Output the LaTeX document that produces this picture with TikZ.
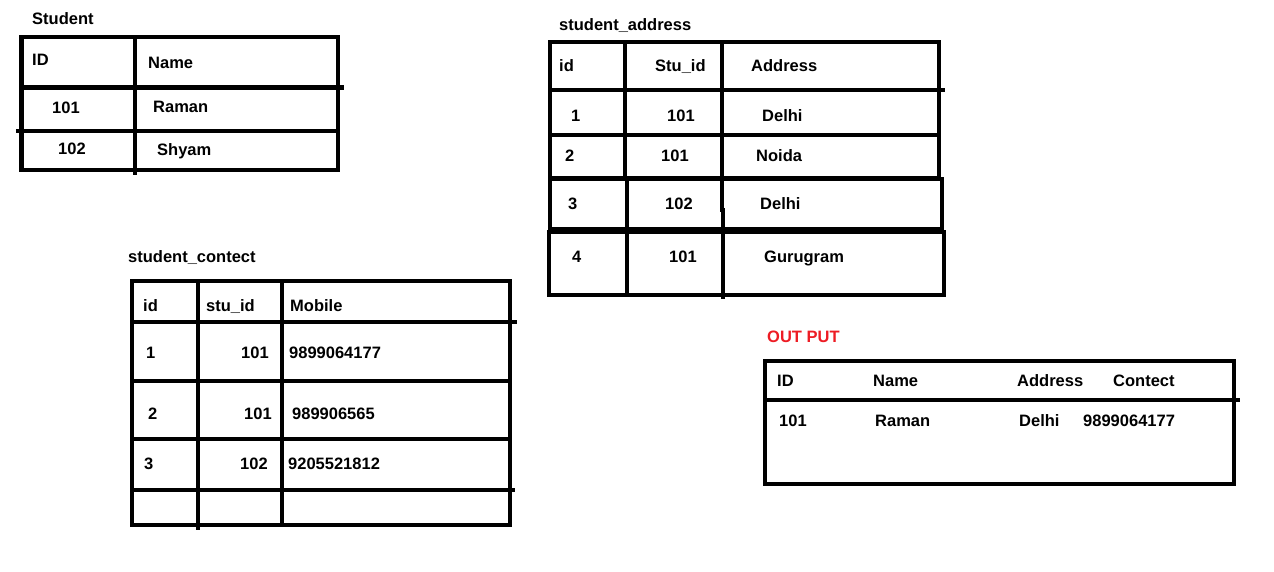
\documentclass[tikz,border=0pt]{standalone}
\usepackage{fontspec}
\usepackage{tikz}
\usetikzlibrary{positioning,calc}
\newfontfamily\paintfont{Liberation Sans}
\definecolor{outred}{RGB}{237,28,36}

\tikzset{
    cell/.style={anchor=base west,inner sep=0pt,font=\paintfont\bfseries\fontsize{16.5}{18}\selectfont},
    rule/.style={line width=4.5pt,line cap=rect}
}

\begin{document}
\begin{tikzpicture}[x=1pt,y=-1pt]
        \useasboundingbox (0,0) rectangle (1274,572);

        %%% Student
        \begin{scope}
            % Lines
            \draw[rule] (21.5,37) rectangle (338,170);
            \draw[rule] (135,37) -- (135,173);
            \draw[rule] (21.5,87.5) -- (342,87.5);
            \draw[rule] (18,131) -- (338,131);

            % Texts
            \node[cell] (stuTitle) at (32,25) {Student};
            \node[cell] (stuHId) at (32,66) {ID};
            \node[cell] (stuHName) at (148,69) {Name};
            \node[cell] (stuId1) at (52,114) {101};
            \node[cell] (stuName1) at (153,113) {Raman};
            \node[cell] (stuId2) at (58,155) {102};
            \node[cell] (stuName2) at (157,156) {Shyam};
        \end{scope}

        %%% student_address
        \begin{scope}
            % Lines
            \draw[rule] (550,42) rectangle (939,178);
            \draw[rule] (550,179) rectangle (942,229);
            \draw[rule] (549,232) rectangle (944,295);
            \draw[rule] (550,90) -- (943,90);
            \draw[rule] (550,135) -- (939,135);
            \draw[rule] (625,42) -- (625,178);
            \draw[rule] (627,178) -- (627,295);
            \draw[rule] (722,42) -- (722,210);
            \draw[rule] (723,210) -- (723,297);

            % Texts
            \node[cell] (addTitle) at (559,31) {student\_address};
            \node[cell] (addHId) at (559,72) {id};
            \node[cell] (addHStu) at (655,72) {Stu\_id};
            \node[cell] (addHAddr) at (751,72) {Address};
            \node[cell] (addId1) at (571,122) {1};
            \node[cell] (addStu1) at (667,122) {101};
            \node[cell] (addAddr1) at (762,122) {Delhi};
            \node[cell] (addId2) at (565,162) {2};
            \node[cell] (addStu2) at (661,162) {101};
            \node[cell] (addAddr2) at (756,162) {Noida};
            \node[cell] (addId3) at (568,210) {3};
            \node[cell] (addStu3) at (665,210) {102};
            \node[cell] (addAddr3) at (760,210) {Delhi};
            \node[cell] (addId4) at (572,262) {4};
            \node[cell] (addStu4) at (669,262) {101};
            \node[cell] (addAddr4) at (764,262) {Gurugram};
        \end{scope}

        %%% student_contect
        \begin{scope}
            % Lines
            \draw[rule] (132,281) rectangle (510,525);
            \draw[rule] (198,281) -- (198,528);
            \draw[rule] (282,281) -- (282,525);
            \draw[rule] (132,322) -- (515,322);
            \draw[rule] (132,381) -- (510,381);
            \draw[rule] (132,439) -- (510,439);
            \draw[rule] (132,490) -- (513,490);

            % Texts
            \node[cell] (conTitle) at (128,262) {student\_contect};
            \node[cell] (conHId) at (143,311) {id};
            \node[cell] (conHStu) at (206,311) {stu\_id};
            \node[cell] (conHMob) at (290,311) {Mobile};
            \node[cell] (conId1) at (146,358) {1};
            \node[cell] (conStu1) at (241,358) {101};
            \node[cell] (conMob1) at (289,358) {9899064177};
            \node[cell] (conId2) at (148,419) {2};
            \node[cell] (conStu2) at (244,419) {101};
            \node[cell] (conMob2) at (292,419) {989906565};
            \node[cell] (conId3) at (144,469) {3};
            \node[cell] (conStu3) at (240,469) {102};
            \node[cell] (conMob3) at (288,469) {9205521812};
        \end{scope}

        %%% Output
        \begin{scope}
            % Lines
            \draw[rule] (765,361) rectangle (1234,484);
            \draw[rule] (765,400) -- (1238,400);

            % Texts
            \node[cell,text=outred] (outTitle) at (767,342) {OUT PUT};
            \node[cell] (outHId) at (777,386) {ID};
            \node[cell] (outHName) at (873,386) {Name};
            \node[cell] (outHAddr) at (1017,386) {Address};
            \node[cell] (outHCon) at (1113,386) {Contect};
            \node[cell] (outId) at (779,426) {101};
            \node[cell] (outName) at (875,426) {Raman};
            \node[cell] (outAddr) at (1019,426) {Delhi};
            \node[cell] (outCon) at (1083,426) {9899064177};
        \end{scope}
\end{tikzpicture}
\end{document}
